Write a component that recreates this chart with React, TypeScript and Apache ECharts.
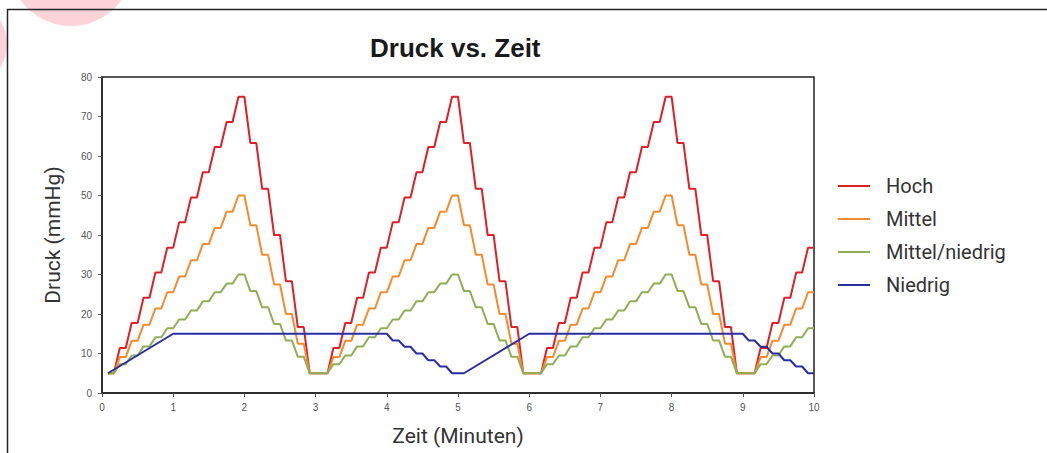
import { useEffect, useRef } from "react";
import * as echarts from "echarts";

const chartTitle = "Druck vs. Zeit";
const xAxisName = "Zeit (Minuten)";
const yAxisName = "Druck (mmHg)";
const seriesNames = ["Hoch", "Mittel", "Mittel/niedrig", "Niedrig"];
const seriesColors = ["#dc2027", "#f58a2e", "#8fae55", "#2a2ea0"];

// time in seconds (x axis shows minutes)
const timeSec = [
  5, 10, 15, 20, 25, 30, 35, 40, 45, 50, 55, 60, 65, 70, 75, 80, 85, 90, 95, 100, 105, 110, 115, 120,
  125, 130, 135, 140, 145, 150, 155, 160, 165, 170, 175, 190,
  195, 200, 205, 210, 215, 220, 225, 230, 235, 240, 245, 250, 255, 260, 265, 270, 275, 280, 285, 290,
  295, 300, 305, 310, 315, 320, 325, 330, 335, 340, 345, 350, 355, 370,
  375, 380, 385, 390, 395, 400, 405, 410, 415, 420, 425, 430, 435, 440, 445, 450, 455, 460, 465, 470,
  475, 480, 485, 490, 495, 500, 505, 510, 515, 520, 525, 530, 535, 550,
  555, 560, 565, 570, 575, 580, 585, 590, 595, 600,
];

const hoch = [
  5, 5, 11.4, 11.4, 17.7, 17.7, 24.1, 24.1, 30.5, 30.5, 36.8, 36.8, 43.2, 43.2, 49.5, 49.5, 55.9, 55.9, 62.3, 62.3, 68.6, 68.6, 75, 75,
  63.3, 63.3, 51.7, 51.7, 40, 40, 28.3, 28.3, 16.7, 16.7, 5, 5,
  11.4, 11.4, 17.7, 17.7, 24.1, 24.1, 30.5, 30.5, 36.8, 36.8, 43.2, 43.2, 49.5, 49.5, 55.9, 55.9, 62.3, 62.3, 68.6, 68.6,
  75, 75, 63.3, 63.3, 51.7, 51.7, 40, 40, 28.3, 28.3, 16.7, 16.7, 5, 5,
  11.4, 11.4, 17.7, 17.7, 24.1, 24.1, 30.5, 30.5, 36.8, 36.8, 43.2, 43.2, 49.5, 49.5, 55.9, 55.9, 62.3, 62.3, 68.6, 68.6,
  75, 75, 63.3, 63.3, 51.7, 51.7, 40, 40, 28.3, 28.3, 16.7, 16.7, 5, 5,
  11.4, 11.4, 17.7, 17.7, 24.1, 24.1, 30.5, 30.5, 36.8, 36.8,
];

const mittel = [
  5, 5, 9.1, 9.1, 13.2, 13.2, 17.3, 17.3, 21.4, 21.4, 25.5, 25.5, 29.5, 29.5, 33.6, 33.6, 37.7, 37.7, 41.8, 41.8, 45.9, 45.9, 50, 50,
  42.5, 42.5, 35, 35, 27.5, 27.5, 20, 20, 12.5, 12.5, 5, 5,
  9.1, 9.1, 13.2, 13.2, 17.3, 17.3, 21.4, 21.4, 25.5, 25.5, 29.5, 29.5, 33.6, 33.6, 37.7, 37.7, 41.8, 41.8, 45.9, 45.9,
  50, 50, 42.5, 42.5, 35, 35, 27.5, 27.5, 20, 20, 12.5, 12.5, 5, 5,
  9.1, 9.1, 13.2, 13.2, 17.3, 17.3, 21.4, 21.4, 25.5, 25.5, 29.5, 29.5, 33.6, 33.6, 37.7, 37.7, 41.8, 41.8, 45.9, 45.9,
  50, 50, 42.5, 42.5, 35, 35, 27.5, 27.5, 20, 20, 12.5, 12.5, 5, 5,
  9.1, 9.1, 13.2, 13.2, 17.3, 17.3, 21.4, 21.4, 25.5, 25.5,
];

const mittelNiedrig = [
  5, 5, 7.3, 7.3, 9.5, 9.5, 11.8, 11.8, 14.1, 14.1, 16.4, 16.4, 18.6, 18.6, 20.9, 20.9, 23.2, 23.2, 25.5, 25.5, 27.7, 27.7, 30, 30,
  25.8, 25.8, 21.7, 21.7, 17.5, 17.5, 13.3, 13.3, 9.2, 9.2, 5, 5,
  7.3, 7.3, 9.5, 9.5, 11.8, 11.8, 14.1, 14.1, 16.4, 16.4, 18.6, 18.6, 20.9, 20.9, 23.2, 23.2, 25.5, 25.5, 27.7, 27.7,
  30, 30, 25.8, 25.8, 21.7, 21.7, 17.5, 17.5, 13.3, 13.3, 9.2, 9.2, 5, 5,
  7.3, 7.3, 9.5, 9.5, 11.8, 11.8, 14.1, 14.1, 16.4, 16.4, 18.6, 18.6, 20.9, 20.9, 23.2, 23.2, 25.5, 25.5, 27.7, 27.7,
  30, 30, 25.8, 25.8, 21.7, 21.7, 17.5, 17.5, 13.3, 13.3, 9.2, 9.2, 5, 5,
  7.3, 7.3, 9.5, 9.5, 11.8, 11.8, 14.1, 14.1, 16.4, 16.4,
];

const niedrigTimeSec = [
  5, 60, 240, 245, 250, 255, 260, 265, 270, 275, 280, 285, 290, 295, 305,
  360, 540, 545, 550, 555, 560, 565, 570, 575, 580, 585, 590, 595, 600,
];
const niedrig = [
  5, 15, 15, 13.3, 13.3, 11.7, 11.7, 10, 10, 8.3, 8.3, 6.7, 6.7, 5, 5,
  15, 15, 13.3, 13.3, 11.7, 11.7, 10, 10, 8.3, 8.3, 6.7, 6.7, 5, 5,
];

const zip = (t: number[], v: number[]) => t.map((x, i) => [x, v[i]]);

export default function App() {
  const ref = useRef<HTMLDivElement>(null);
  useEffect(() => {
    document.body.style.margin = "0";
    const chart = echarts.init(ref.current!, undefined, { renderer: "svg" });
    const values = [
      zip(timeSec, hoch),
      zip(timeSec, mittel),
      zip(timeSec, mittelNiedrig),
      zip(niedrigTimeSec, niedrig),
    ];
    chart.setOption({
      animation: false,
      backgroundColor: "#ffffff",
      title: {
        text: chartTitle,
        left: 370,
        top: 35,
        padding: 0,
        textStyle: {
          fontFamily: "Liberation Sans, Arial, sans-serif",
          fontWeight: "bold",
          fontSize: 26,
          color: "#1a1a1a",
        },
      },
      legend: {
        orient: "vertical",
        left: 838,
        top: 176,
        padding: 0,
        itemWidth: 32,
        itemHeight: 2,
        itemGap: 13,
        icon: "rect",
        data: seriesNames,
        textStyle: {
          fontFamily: "Roboto, sans-serif",
          fontSize: 20,
          lineHeight: 20,
          color: "#333333",
          padding: [0, 0, 0, 11],
        },
      },
      grid: {
        left: 102,
        top: 77,
        width: 712,
        height: 316,
        show: true,
        borderColor: "#222222",
        borderWidth: 1.5,
        containLabel: false,
      },
      xAxis: {
        type: "value",
        min: 0,
        max: 600,
        interval: 60,
        name: xAxisName,
        nameLocation: "middle",
        nameGap: 32,
        nameTextStyle: { fontFamily: "Roboto, sans-serif", fontSize: 21, color: "#333333" },
        axisLine: { show: true, lineStyle: { color: "#222222", width: 1.5 } },
        axisTick: { show: true, length: 4, lineStyle: { color: "#555555" } },
        axisLabel: {
          margin: 9,
          fontFamily: "Liberation Sans, Arial, sans-serif",
          fontSize: 10,
          color: "#555555",
          formatter: (v: number) => String(v / 60),
        },
        splitLine: { show: false },
      },
      yAxis: {
        type: "value",
        min: 0,
        max: 80,
        interval: 10,
        name: yAxisName,
        nameLocation: "middle",
        nameRotate: 90,
        nameGap: 39,
        nameTextStyle: { fontFamily: "Roboto, sans-serif", fontSize: 21, color: "#333333" },
        axisLine: { show: true, lineStyle: { color: "#222222", width: 1.5 } },
        axisTick: { show: true, length: 4, lineStyle: { color: "#555555" } },
        axisLabel: {
          margin: 10,
          fontFamily: "Liberation Sans, Arial, sans-serif",
          fontSize: 10,
          color: "#555555",
        },
        splitLine: { show: false },
      },
      series: seriesNames.map((name, i) => ({
        name,
        type: "line",
        data: values[i],
        showSymbol: false,
        symbol: "none",
        color: seriesColors[i],
        lineStyle: { width: 2, color: seriesColors[i] },
      })),
      graphic: [
        {
          type: "circle",
          shape: { cx: 71, cy: -36, r: 62 },
          style: { fill: "#fcd3d9" },
          z: -10,
          silent: true,
        },
        {
          type: "circle",
          shape: { cx: -38, cy: 44, r: 45 },
          style: { fill: "#fcd3d9" },
          z: -10,
          silent: true,
        },
        {
          type: "polyline",
          shape: { points: [[7.5, 453], [7.5, 9.5], [1047, 9.5]] },
          style: { stroke: "#222222", lineWidth: 1.5, fill: "none" },
          z: 10,
          silent: true,
        },
      ],
    });
    return () => chart.dispose();
  }, []);
  return <div ref={ref} style={{ width: 1047, height: 453 }} />;
}
